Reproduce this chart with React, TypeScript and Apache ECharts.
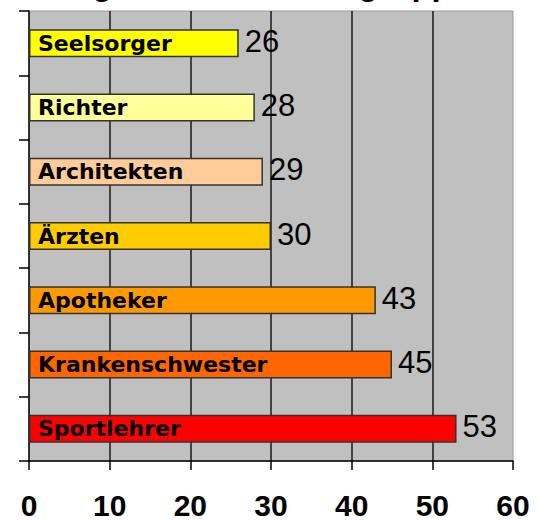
import React, { useEffect, useRef } from "react";
import * as echarts from "echarts";

const titleText = "Umfrage zu den Berufsgruppen";
const categories = [
  "Seelsorger",
  "Richter",
  "Architekten",
  "Ärzten",
  "Apotheker",
  "Krankenschwester",
  "Sportlehrer",
];
const values = [26, 28, 29, 30, 43, 45, 53];
const barColors = ["#FFFF00", "#FFFF99", "#FFCC99", "#FFCC00", "#FF9900", "#FF6600", "#FF0000"];
const xTicks = [0, 10, 20, 30, 40, 50, 60];

export default function App() {
  const ref = useRef<HTMLDivElement>(null);
  useEffect(() => {
    if (!ref.current) return;
    const chart = echarts.init(ref.current, null, { renderer: "svg" });
    chart.setOption({
      animation: false,
      backgroundColor: "#ffffff",
      graphic: [
        {
          type: "text",
          x: -3,
          y: 0,
          style: {
            text: titleText,
            font: "bold 33px 'Liberation Sans', Arial, sans-serif",
            fill: "#000",
            verticalAlign: "bottom",
            align: "left",
          },
        },
      ],
      grid: {
        left: 29,
        right: 25,
        top: 11,
        bottom: 56,
        show: true,
        backgroundColor: "#C0C0C0",
        borderColor: "#9a9a9a",
        borderWidth: 1,
      },
      xAxis: {
        type: "value",
        min: xTicks[0],
        max: xTicks[xTicks.length - 1],
        interval: 10,
        axisLine: { show: true, lineStyle: { color: "#000", width: 1.5 } },
        axisTick: { show: true, length: 9, lineStyle: { color: "#000", width: 1.5 } },
        axisLabel: {
          margin: 29,
          color: "#000",
          fontSize: 30,
          fontWeight: "bold",
          fontFamily: "'Liberation Sans', Arial, sans-serif",
        },
        splitLine: {
          show: true,
          showMinLine: false,
          showMaxLine: false,
          lineStyle: { color: "#1a1a1a", width: 1.5 },
        },
      },
      yAxis: {
        type: "category",
        data: categories,
        inverse: true,
        axisLine: { show: true, lineStyle: { color: "#000", width: 1.5 } },
        axisTick: { show: true, length: 10, lineStyle: { color: "#000", width: 1.5 } },
        axisLabel: { show: false },
        splitLine: { show: false },
      },
      series: [
        {
          type: "bar",
          data: values.map((v, i) => ({ value: v, itemStyle: { color: barColors[i] } })),
          barWidth: 28,
          itemStyle: { borderColor: "#333", borderWidth: 1.5 },
          label: {
            show: true,
            position: "right",
            distance: 6,
            offset: [0, -2],
            color: "#000",
            fontSize: 31,
            fontFamily: "'Liberation Sans', Arial, sans-serif",
            formatter: "{c}",
          },
          z: 2,
        },
        {
          type: "bar",
          data: values,
          barWidth: 28,
          barGap: "-100%",
          itemStyle: { color: "rgba(0,0,0,0)" },
          label: {
            show: true,
            position: "insideLeft",
            distance: 9,
            color: "#000",
            fontSize: 22,
            fontWeight: "bold",
            fontFamily: "'DejaVu Sans', Verdana, sans-serif",
            formatter: "{b}",
          },
          silent: true,
          z: 3,
        },
      ],
    });
    return () => chart.dispose();
  }, []);
  return <div ref={ref} style={{ width: 538, height: 520, position: "absolute", left: 0, top: 0 }} />;
}
